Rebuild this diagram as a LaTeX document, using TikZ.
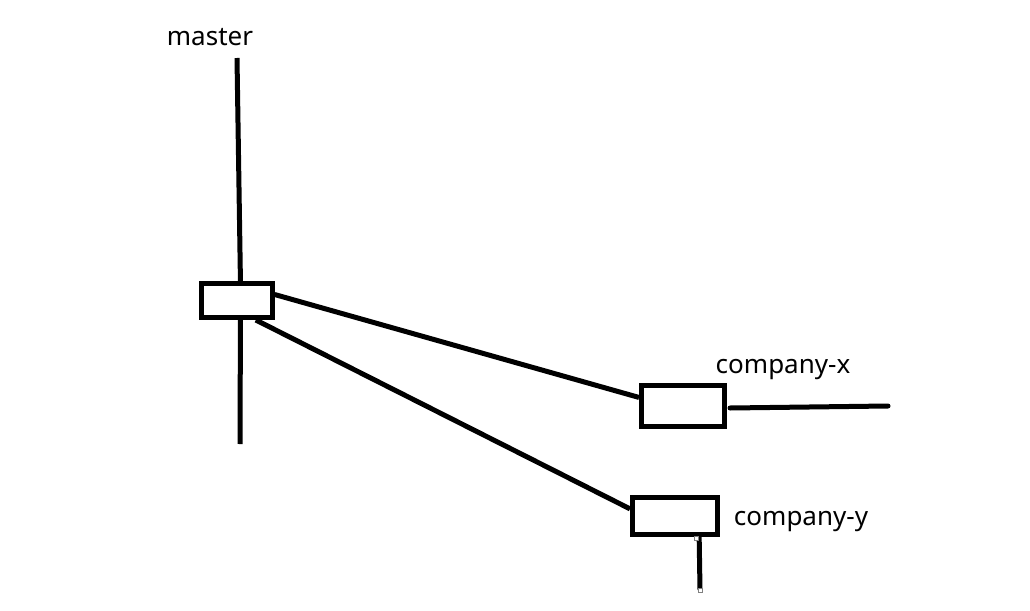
\documentclass[tikz,border=0pt]{standalone}
\usepackage{fontspec}
\setmainfont{Noto Sans}

\begin{document}
\begin{tikzpicture}[x=0.02cm,y=-0.02cm,
	line width=0.1cm,
	commit/.style={draw,line width=0.1cm,inner sep=0pt},
	branch/.style={inner sep=0pt,font=\fontsize{14.8}{18}\selectfont},
	handle/.style={draw=gray,line width=0.4pt,fill=white}]
	\useasboundingbox (0,0) rectangle (1030,611);
	\node[commit,minimum width=1.41cm,minimum height=0.68cm] (m) at (237,300.5) {};
	\node[commit,minimum width=1.66cm,minimum height=0.83cm] (cx) at (683,406) {};
	\node[commit,minimum width=1.70cm,minimum height=0.74cm] (cy) at (675,516) {};
	\node[branch] (mlabel) at (210,37) {master};
	\node[branch] (cxlabel) at (783,370) {company-x};
	\node[branch] (cylabel) at (801,522) {company-y};
	\coordinate (mtop) at (237,58);
	\coordinate (mbot) at (240,444);
	\coordinate (cxa) at (730,408);
	\coordinate (cxb) at (888,406);
	\coordinate (cyb) at (700,590);
	\draw (mtop) -- (m.80);
	\draw (m.280) -- (mbot);
	\draw (m.9) -- (cx.169);
	\draw (m.314) -- (cy.171);
	\draw[line cap=round] (cxa) -- (cxb);
	\draw (cy.319) -- (cyb);
	\draw[handle] (694,536) rectangle ++(4,4);
	\draw[handle] (698,588) rectangle ++(4,4);
\end{tikzpicture}
\end{document}
